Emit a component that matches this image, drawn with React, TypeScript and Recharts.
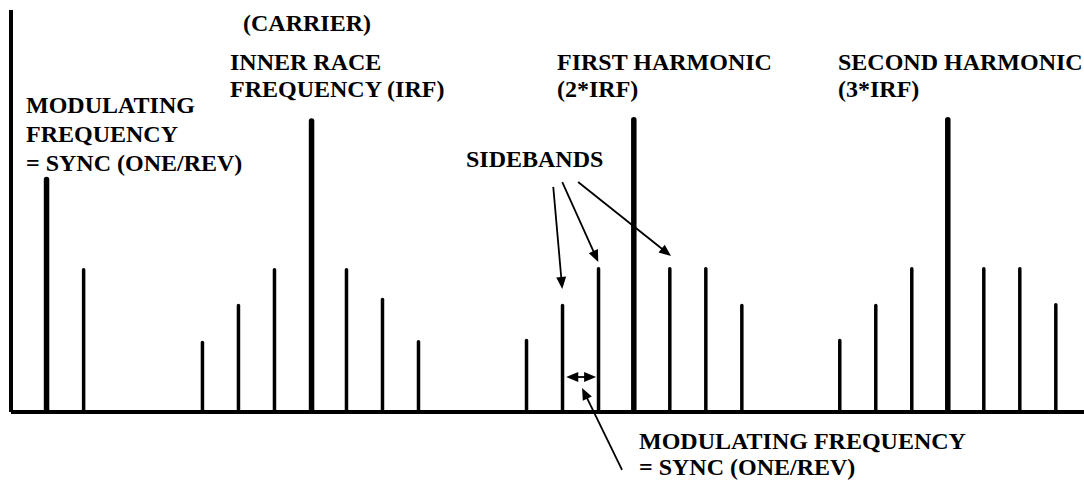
import React from "react";
import { ComposedChart, Bar, XAxis, YAxis, ReferenceLine } from "recharts";

// spectrum lines: frequency in orders of shaft speed, amplitude in % of full scale
const freqs = [
  1.0, 2.03,
  5.33, 6.33, 7.33, 8.36, 9.33, 10.33, 11.33,
  14.33, 15.33, 16.33, 17.31, 18.31, 19.31, 20.31,
  23.03, 24.03, 25.03, 26.03, 27.03, 28.03, 29.03,
];
const amps = [
  58.5, 35.8,
  17.7, 26.9, 35.8, 73.1, 35.8, 28.4, 17.9,
  18.2, 26.9, 36.1, 73.4, 36.1, 36.1, 26.9,
  18.2, 26.9, 36.1, 73.4, 36.1, 36.1, 27.1,
];
// main = sync or carrier/harmonic line, drawn heavier than the sidebands
const mainLines = [
  true, false,
  false, false, false, true, false, false, false,
  false, false, false, true, false, false, false,
  false, false, false, true, false, false, false,
];

const data = freqs.map((f, i) => ({ f, amp: amps[i], main: mainLines[i] }));

const FONT = "Liberation Serif, Times New Roman, DejaVu Serif, serif";

const labels: { text: string; x: number; y: number }[] = [
  { text: "(CARRIER)", x: 243, y: 31 },
  { text: "INNER RACE", x: 230, y: 70 },
  { text: "FREQUENCY (IRF)", x: 230, y: 97 },
  { text: "MODULATING", x: 26, y: 113 },
  { text: "FREQUENCY", x: 26, y: 142 },
  { text: "= SYNC (ONE/REV)", x: 26, y: 171 },
  { text: "FIRST HARMONIC", x: 557, y: 70 },
  { text: "(2*IRF)", x: 557, y: 97 },
  { text: "SECOND HARMONIC", x: 838, y: 70 },
  { text: "(3*IRF)", x: 838, y: 97 },
  { text: "SIDEBANDS", x: 466, y: 167 },
  { text: "MODULATING FREQUENCY", x: 639, y: 449 },
  { text: "= SYNC (ONE/REV)", x: 639, y: 475 },
];

function Spike(props: any) {
  const { x, y, width, height, payload } = props;
  if (height == null || height <= 0) return null;
  const w = payload.main ? 5.5 : 3.5;
  const cx = x + width / 2;
  return <rect x={cx - w / 2} y={y} width={w} height={height + 2} rx={w / 2} fill="#000" />;
}

function head(tx: number, ty: number, ux: number, uy: number) {
  const L = 12;
  const hw = 5;
  const bx = tx - ux * L;
  const by = ty - uy * L;
  const nx = -uy;
  const ny = ux;
  return `${tx},${ty} ${bx + nx * hw},${by + ny * hw} ${bx - nx * hw},${by - ny * hw}`;
}

const arrow = (both: boolean) => (p: any) => {
  const { x1, y1, x2, y2 } = p;
  const len = Math.hypot(x2 - x1, y2 - y1) || 1;
  const ux = (x2 - x1) / len;
  const uy = (y2 - y1) / len;
  const sx = both ? x1 + ux * 10 : x1;
  const ex = x2 - ux * 10;
  const sy = both ? y1 + uy * 10 : y1;
  const ey = y2 - uy * 10;
  return (
    <g>
      <line x1={sx} y1={sy} x2={ex} y2={ey} stroke="#000" strokeWidth={1.8} />
      <polygon points={head(x2, y2, ux, uy)} fill="#000" />
      {both && <polygon points={head(x1, y1, -ux, -uy)} fill="#000" />}
    </g>
  );
};

export default function App() {
  return (
    <div style={{ position: "absolute", left: 0, top: 0, width: 1084, height: 491, background: "#fff" }}>
      <ComposedChart
        width={1084}
        height={491}
        data={data}
        margin={{ top: 10, right: 0, left: 11, bottom: 79 }}
      >
        <XAxis type="number" dataKey="f" domain={[0, 29.8]} allowDataOverflow hide />
        <YAxis type="number" domain={[0, 100]} allowDataOverflow hide />
        {/* frame: vertical amplitude axis and frequency baseline */}
        <ReferenceLine x={0} stroke="#000" strokeWidth={4} ifOverflow="visible" />
        <ReferenceLine y={0} stroke="#000" strokeWidth={4} ifOverflow="visible" />
        <Bar dataKey="amp" barSize={6} shape={<Spike />} isAnimationActive={false} />
        <ReferenceLine
          segment={[{ x: 15.06, y: 56.0 }, { x: 15.31, y: 30.6 }]}
          ifOverflow="visible"
          shape={arrow(false)}
        />
        <ReferenceLine
          segment={[{ x: 15.31, y: 57.2 }, { x: 16.31, y: 37.3 }]}
          ifOverflow="visible"
          shape={arrow(false)}
        />
        <ReferenceLine
          segment={[{ x: 15.75, y: 57.2 }, { x: 18.33, y: 38.8 }]}
          ifOverflow="visible"
          shape={arrow(false)}
        />
        <ReferenceLine
          segment={[{ x: 15.42, y: 8.7 }, { x: 16.25, y: 8.7 }]}
          ifOverflow="visible"
          shape={arrow(true)}
        />
        <ReferenceLine
          segment={[{ x: 16.97, y: -14.4 }, { x: 15.86, y: 6.0 }]}
          ifOverflow="visible"
          shape={arrow(false)}
        />
      </ComposedChart>
      <svg
        width={1084}
        height={491}
        style={{ position: "absolute", left: 0, top: 0, pointerEvents: "none" }}
      >
        {labels.map((l, i) => (
          <text
            key={i}
            x={l.x}
            y={l.y}
            style={{ fontFamily: FONT, fontWeight: 700, fontSize: 24 }}
            fill="#000"
          >
            {l.text}
          </text>
        ))}
      </svg>
    </div>
  );
}
